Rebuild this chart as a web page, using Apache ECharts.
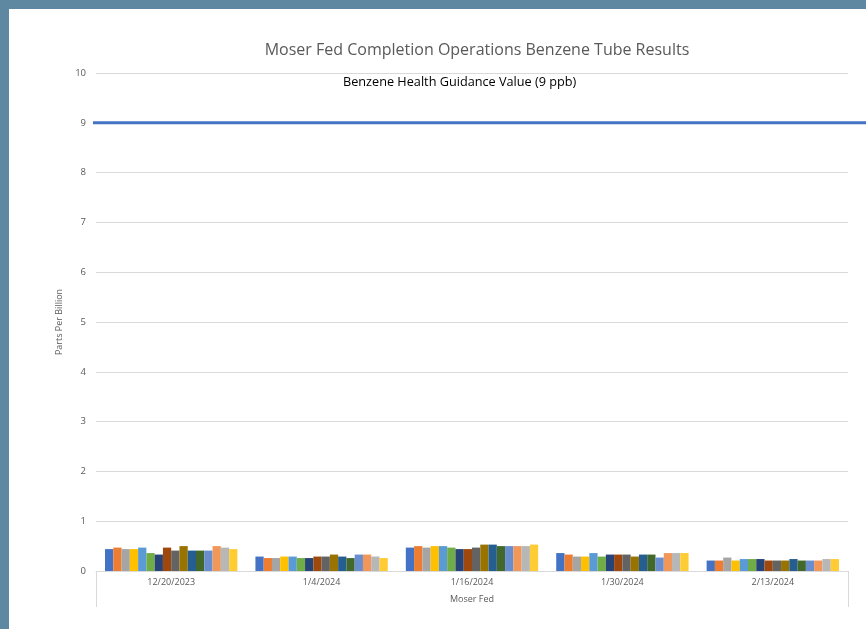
<!DOCTYPE html>
<html><head><meta charset="utf-8">
<script src="https://cdn.jsdelivr.net/npm/echarts@6/dist/echarts.min.js"></script>
<style>
html,body{margin:0;padding:0;width:866px;height:629px;background:#5e88a1;overflow:hidden}
#wrap{position:absolute;left:9px;top:9px;width:857px;height:620px;background:#fff}
#c{position:absolute;left:-9px;top:-9px;width:866px;height:629px}
</style></head>
<body><div id="wrap"><div id="c"></div></div>
<script>
const dates = ['12/20/2023','1/4/2024','1/16/2024','1/30/2024','2/13/2024'];
const tubes = ['Tube 1','Tube 2','Tube 3','Tube 4','Tube 5','Tube 6','Tube 7','Tube 8','Tube 9','Tube 10','Tube 11','Tube 12','Tube 13','Tube 14','Tube 15','Tube 16'];
const d20231220 = [0.44,0.47,0.44,0.44,0.47,0.36,0.33,0.47,0.41,0.50,0.41,0.41,0.41,0.50,0.47,0.44];
const d20240104 = [0.29,0.26,0.26,0.29,0.29,0.26,0.26,0.29,0.29,0.33,0.29,0.26,0.33,0.33,0.29,0.26];
const d20240116 = [0.47,0.50,0.47,0.50,0.50,0.47,0.44,0.44,0.47,0.53,0.53,0.50,0.50,0.50,0.50,0.53];
const d20240130 = [0.36,0.33,0.29,0.29,0.36,0.29,0.33,0.33,0.33,0.29,0.33,0.33,0.27,0.36,0.36,0.36];
const d20240213 = [0.21,0.21,0.27,0.21,0.24,0.24,0.24,0.21,0.21,0.21,0.24,0.21,0.21,0.21,0.24,0.24];
const guidance = 9;
const valuesByDate = [d20231220,d20240104,d20240116,d20240130,d20240213];
const colors = ['#4472C4','#ED7D31','#A5A5A5','#FFC000','#5B9BD5','#70AD47','#264478','#9E480E','#636363','#997300','#255E91','#43682B','#698ED0','#F1975A','#B7B7B7','#FFCD33'];

const font = '"Open Sans", "Liberation Sans", sans-serif';
const series = tubes.map((name,i)=>({
  name, type:'bar', xAxisIndex:0, yAxisIndex:0,
  data: valuesByDate.map(v=>v[i]),
  itemStyle:{color:colors[i]},
  barGap:'0%', barCategoryGap:'12%'
}));
series.push({
  name:'Benzene Health Guidance Value (9 ppb)', type:'line', xAxisIndex:2, yAxisIndex:1,
  data:[[0,guidance],[1,guidance]], symbol:'none',
  lineStyle:{color:'#4472C4', width:3}, z:5
});

const chart = echarts.init(document.getElementById('c'));
chart.setOption({
  animation:false,
  textStyle:{fontFamily:font},
  title:{text:'Moser Fed Completion Operations Benzene Tube Results', left:472, textAlign:'center', top:37,
    textStyle:{fontFamily:font, fontSize:16, fontWeight:'normal', color:'#595959'}},
  graphic:[{type:'text', left:343, top:76, style:{text:'Benzene Health Guidance Value (9 ppb)', font:'12.7px "Open Sans", sans-serif', fill:'#000'}}],
  grid:[{left:96, right:18, top:73, bottom:58},{left:93, right:0, top:73, bottom:58}],
  xAxis:[
    {type:'category', data:dates, gridIndex:0,
     axisLine:{lineStyle:{color:'#d9d9d9'}}, axisTick:{show:false},
     axisLabel:{color:'#595959', fontSize:9, margin:7}},
    {type:'category', data:['Moser Fed'], gridIndex:0, position:'bottom',
     axisLine:{show:false}, axisTick:{show:true, length:36, lineStyle:{color:'#d9d9d9'}},
     axisLabel:{color:'#595959', fontSize:9, margin:24}},
    {type:'value', gridIndex:1, min:0, max:1, show:false}
  ],
  yAxis:[
    {type:'value', gridIndex:0, min:0, max:10, interval:1,
     name:'Parts Per Billion', nameLocation:'middle', nameGap:24, nameRotate:90,
     nameTextStyle:{color:'#595959', fontSize:9},
     axisLine:{show:false}, axisTick:{show:false},
     axisLabel:{color:'#595959', fontSize:9.5, margin:10},
     splitLine:{lineStyle:{color:'#d9d9d9'}}},
    {type:'value', gridIndex:1, min:0, max:10, show:false}
  ],
  series
});
</script></body></html>
